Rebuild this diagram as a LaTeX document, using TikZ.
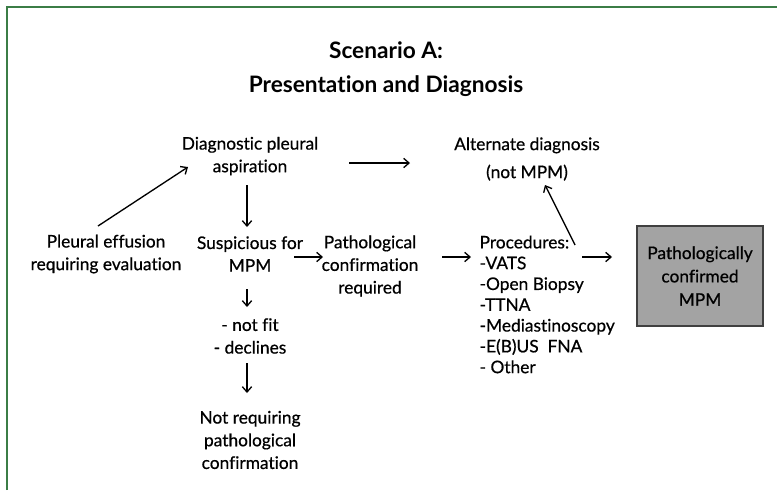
\documentclass[tikz,border=0pt]{standalone}
\usepackage{fontspec}
\setmainfont{Lato}[Ligatures=NoCommon,UprightFeatures={FakeBold=0.6}]
\usetikzlibrary{arrows.meta,positioning,calc}
\definecolor{framegreen}{HTML}{3B7D46}
\definecolor{boxgray}{HTML}{A3A3A3}
\definecolor{boxedge}{HTML}{404040}
\tikzset{
  titletext/.style={align=center,font=\bfseries\fontsize{17}{25}\selectfont},
  steptext/.style={align=center,inner sep=1pt,font=\fontsize{13}{17}\selectfont},
  listtext/.style={align=left,inner sep=1pt,font=\fontsize{13}{15.6}\selectfont},
  mpmbox/.style={draw=boxedge,fill=boxgray,line width=1.6pt,align=center,
    minimum width=94pt,minimum height=75pt,font=\fontsize{13}{17.5}\selectfont},
  flowarrow/.style={-{Straight Barb[length=4pt,width=7pt]},line width=1pt},
  frameline/.style={draw=framegreen,line width=2.2pt}
}
\begin{document}
\begin{tikzpicture}[x=0.75pt,y=-0.75pt]
  \useasboundingbox (0,0) rectangle (777,490);
  \draw[frameline] (7,490) -- (7,7) -- (777,7);
  % title
  \node[titletext] (title) at (386,69) {Scenario A:\\Presentation and Diagnosis};
  % stages
  \node[steptext] (diag) at (250,156) {Diagnostic pleural\\aspiration};
  \node[steptext] (effusion) at (106,254) {Pleural effusion\\requiring evaluation};
  \node[steptext] (susp) at (250,254) {Suspicious for\\MPM};
  \node[steptext] (path) at (370,266) {Pathological\\confirmation\\required};
  \node[listtext,anchor=north west] (proc) at (478,234)
    {Procedures:\\-VATS\\-Open Biopsy\\-TTNA\\-Mediastinoscopy\\-E(B)US\ \ FNA\\- Other};
  \node[steptext,font=\fontsize{13}{21}\selectfont] (alt) at (527,159) {Alternate diagnosis\\(not MPM)};
  \node[mpmbox] (mpm) at (700,276) {Pathologically\\confirmed\\MPM};
  \node[steptext] (unfit) at (250,336) {- not fit\\- declines};
  \node[steptext] (noconf) at (250,440) {Not requiring\\pathological\\confirmation};
  % connectors
  \draw[flowarrow] ($(effusion)+(-8,-28)$) -- ($(diag)+(-62,11)$);
  \draw[flowarrow] ($(diag)+(-3,29)$) -- ($(susp)+(-3,-27)$);
  \draw[flowarrow] ($(diag)+(99,7)$) -- ($(alt)+(-117,4)$);
  \draw[flowarrow] ($(susp)+(44,3)$) -- ($(path)+(-47,-9)$);
  \draw[flowarrow] ($(path)+(72,-9)$) -- ($(proc.north west)+(-7,23)$);
  \draw[flowarrow] ($(mpm)+(-118,-19)$) -- ($(mpm)+(-88,-19)$);
  \draw[flowarrow] ($(proc.north west)+(97,11)$) -- ($(alt)+(18,26)$);
  \draw[flowarrow] ($(susp)+(-3,35)$) -- ($(unfit)+(-3,-29)$);
  \draw[flowarrow] ($(unfit)+(-3,27)$) -- ($(noconf)+(-3,-47)$);
\end{tikzpicture}
\end{document}
